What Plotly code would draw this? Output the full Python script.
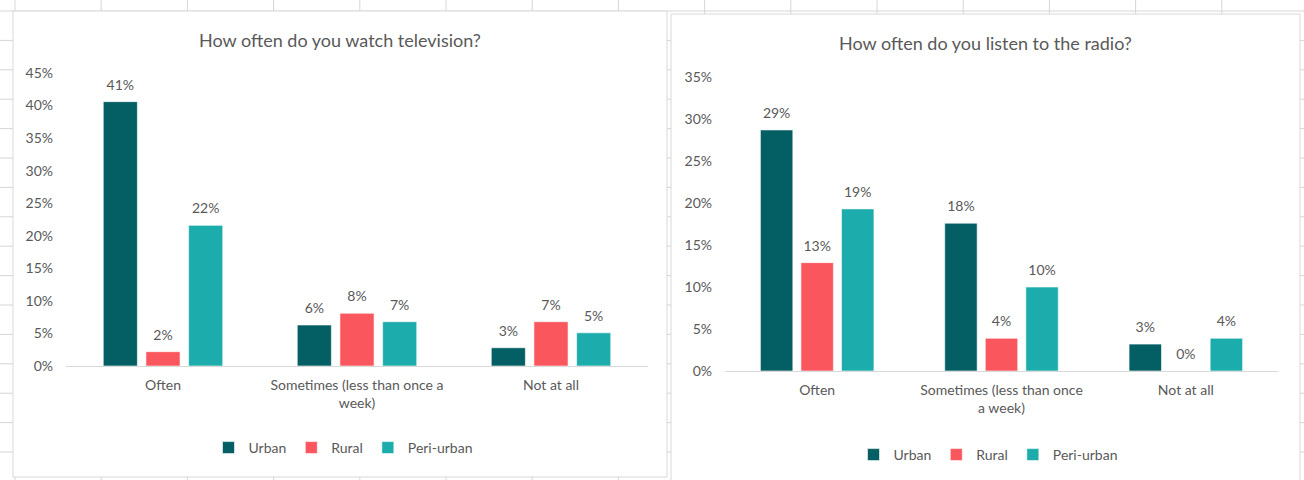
import plotly.graph_objects as go

# ---- data -------------------------------------------------------------
tv_categories = ["Often", "Sometimes (less than once a<br>week)", "Not at all"]
radio_categories = ["Often", "Sometimes (less than once<br>a week)", "Not at all"]
groups = ["Urban", "Rural", "Peri-urban"]

tv_urban = [0.406, 0.063, 0.028]
tv_rural = [0.022, 0.081, 0.068]
tv_peri = [0.216, 0.068, 0.051]

radio_urban = [0.287, 0.176, 0.032]
radio_rural = [0.129, 0.039, 0.0]
radio_peri = [0.193, 0.100, 0.039]

tv_ticks = [0, 0.05, 0.10, 0.15, 0.20, 0.25, 0.30, 0.35, 0.40, 0.45]
radio_ticks = [0, 0.05, 0.10, 0.15, 0.20, 0.25, 0.30, 0.35]

colors = ["#035f63", "#f9565e", "#1bacab"]

# ---- page geometry (pixels) ------------------------------------------
W, H = 1304, 480
FONT = "Lato, Open Sans, sans-serif"
TXT = "#595959"
GRID = "#d6d6d6"
GAP = 0.34


def fx(px):
    return px / W


def fy(py):
    return 1 - py / H


fig = go.Figure()

series = [
    (tv_urban, tv_rural, tv_peri, tv_categories, "x", "y", "legend"),
    (radio_urban, radio_rural, radio_peri, radio_categories, "x2", "y2", "legend2"),
]
for urban, rural, peri, cats, xa, ya, lg in series:
    for name, vals, col in zip(groups, [urban, rural, peri], colors):
        fig.add_trace(go.Bar(
            x=cats, y=vals, name=name, xaxis=xa, yaxis=ya, legend=lg,
            offsetgroup=name,
            marker=dict(color=col, line=dict(color="white", width=0.6)),
            hoverinfo="skip",
        ))
    # value labels, grouped like the bars; the transparent marker
    # lifts each label a little above its bar
    for name, vals in zip(groups, [urban, rural, peri]):
        fig.add_trace(go.Scatter(
            x=cats, y=vals, xaxis=xa, yaxis=ya, offsetgroup=name,
            mode="markers+text", marker=dict(size=12, opacity=0),
            texttemplate="%{y:.0%}", textposition="top center",
            textfont=dict(family=FONT, size=14, color=TXT),
            showlegend=False, hoverinfo="skip", cliponaxis=False,
        ))

# ---- worksheet grid behind the charts -------------------------------
shapes = []
x = 15.0
while x < W + 5:
    shapes.append(dict(type="line", xref="paper", yref="paper",
                       x0=fx(x), x1=fx(x), y0=0, y1=1,
                       line=dict(color=GRID, width=1), layer="below"))
    x += 86.2
y = 11.0
while y < H:
    shapes.append(dict(type="line", xref="paper", yref="paper",
                       x0=0, x1=1, y0=fy(y), y1=fy(y),
                       line=dict(color=GRID, width=1), layer="below"))
    y += 29.4

# chart frames
for x0, y0, x1, y1 in [(13, 11, 667, 477), (671, 14, 1300, 520)]:
    shapes.append(dict(type="rect", xref="paper", yref="paper",
                       x0=fx(x0), x1=fx(x1), y0=fy(y1), y1=fy(y0),
                       fillcolor="white", line=dict(color="#d9d9d9", width=1),
                       layer="below"))

axis_common = dict(showgrid=False, zeroline=False, ticks="", fixedrange=True,
                   tickfont=dict(family=FONT, size=14, color=TXT))

legend_common = dict(orientation="h", xanchor="center", yanchor="middle",
                     bgcolor="rgba(0,0,0,0)", itemwidth=30,
                     font=dict(family=FONT, size=14, color=TXT),
                     itemclick=False, itemdoubleclick=False)

fig.update_layout(
    width=W, height=H,
    margin=dict(l=0, r=0, t=0, b=0, autoexpand=False),
    paper_bgcolor="white",
    plot_bgcolor="rgba(0,0,0,0)",
    barmode="group", bargap=GAP, bargroupgap=0.2,
    scattermode="group", scattergap=GAP,
    shapes=shapes,
    xaxis=dict(domain=[fx(66), fx(648)], anchor="y", showline=True,
               linecolor="#d9d9d9", linewidth=1, ticklabelstandoff=6,
               **axis_common),
    yaxis=dict(domain=[fy(366), fy(73)], anchor="x", range=[0, 0.45],
               tickvals=tv_ticks, tickformat=".0%", showline=False,
               ticklabelstandoff=12, **axis_common),
    xaxis2=dict(domain=[fx(725), fx(1278)], anchor="y2", showline=True,
                linecolor="#d9d9d9", linewidth=1, ticklabelstandoff=6,
                **axis_common),
    yaxis2=dict(domain=[fy(371), fy(77)], anchor="x2", range=[0, 0.35],
                tickvals=radio_ticks, tickformat=".0%", showline=False,
                ticklabelstandoff=12, **axis_common),
    legend=dict(x=fx(343), y=fy(448), **legend_common),
    legend2=dict(x=fx(988), y=fy(455), **legend_common),
    annotations=[
        dict(text="How often do you watch television?", x=fx(340), y=fy(40),
             xref="paper", yref="paper", showarrow=False,
             xanchor="center", yanchor="middle",
             font=dict(family=FONT, size=18, color=TXT)),
        dict(text="How often do you listen to the radio?", x=fx(985), y=fy(43),
             xref="paper", yref="paper", showarrow=False,
             xanchor="center", yanchor="middle",
             font=dict(family=FONT, size=18, color=TXT)),
    ],
)

fig.write_html("out.html")
